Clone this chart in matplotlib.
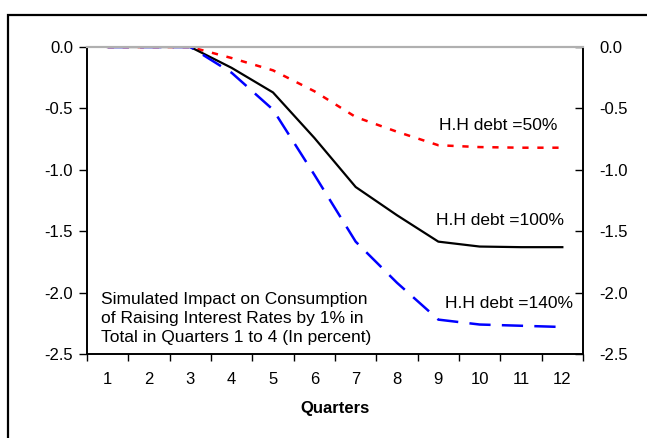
import matplotlib.pyplot as plt
from matplotlib.patches import Rectangle

plt.rcParams['font.family'] = ['Liberation Sans', 'DejaVu Sans']

quarters = list(range(1, 13))
debt_50 = [0, 0, 0, -0.09, -0.19, -0.36, -0.57, -0.69, -0.80, -0.815, -0.82, -0.82]
debt_100 = [0, 0, 0, -0.17, -0.37, -0.74, -1.14, -1.37, -1.585, -1.625, -1.63, -1.63]
debt_140 = [0, 0, 0, -0.21, -0.51, -1.04, -1.585, -1.92, -2.22, -2.26, -2.27, -2.28]
yticks = [0.0, -0.5, -1.0, -1.5, -2.0, -2.5]
note = ('Simulated Impact on Consumption\n'
        'of Raising Interest Rates by 1% in\n'
        'Total in Quarters 1 to 4 (In percent)')

fig = plt.figure(figsize=(6.47, 4.38), dpi=100)
ax = fig.add_axes([87 / 647, 84 / 438, 496 / 647, 307 / 438])

# outer frame of the chart object, running off the right/bottom edge
fig.patches.append(Rectangle((8 / 647, -0.1), 1.2, 1.1 - 15 / 438,
                             transform=fig.transFigure, fill=False,
                             edgecolor='black', linewidth=1.6))

ax.plot(quarters, debt_50, color='#ff0000', linewidth=1.8, linestyle=(0, (2.5, 3.5)))
ax.plot(quarters, debt_100, color='black', linewidth=1.6)
ax.plot(quarters, debt_140, color='#0000ff', linewidth=1.8, linestyle=(0, (8.5, 4.5)))

ax.set_xlim(0.5, 12.5)
ax.set_ylim(-2.5, 0.0)
ax.set_xticks(quarters)
ax.set_xticks([q + 0.5 for q in range(0, 13)], minor=True)
ax.tick_params(axis='x', which='major', length=0, pad=13, labelsize=12)
ax.tick_params(axis='x', which='minor', direction='out', length=5, width=1)
ax.set_yticks(yticks)
ax.set_yticklabels([f'{v:.1f}' for v in yticks])
ax.tick_params(axis='y', direction='out', length=6, width=1, labelsize=12, pad=4)

ax2 = ax.twinx()
ax2.set_ylim(-2.5, 0.0)
ax2.set_yticks(yticks)
ax2.set_yticklabels([f'{v:.1f}' for v in yticks])
ax2.tick_params(axis='y', direction='in', length=6, width=1, labelsize=12, pad=12)

for a in (ax, ax2):
    for side in ('left', 'right', 'bottom'):
        a.spines[side].set_linewidth(1.2)
        a.spines[side].set_color('black')
    a.spines['top'].set_color('#b0b0b0')
    a.spines['top'].set_linewidth(1.5)

ax.set_xlabel('Quarters', fontsize=12, fontweight='bold', labelpad=10)

ax.text(10.45, -0.64, 'H.H debt =50%', fontsize=12.5, ha='center', va='center')
ax.text(10.5, -1.41, 'H.H debt =100%', fontsize=12.5, ha='center', va='center')
ax.text(10.72, -2.09, 'H.H debt =140%', fontsize=12.5, ha='center', va='center')
ax.text(0.84, -2.21, note, fontsize=12.5, ha='left', va='center', linespacing=1.35)

fig.savefig('out.png', dpi=100)
